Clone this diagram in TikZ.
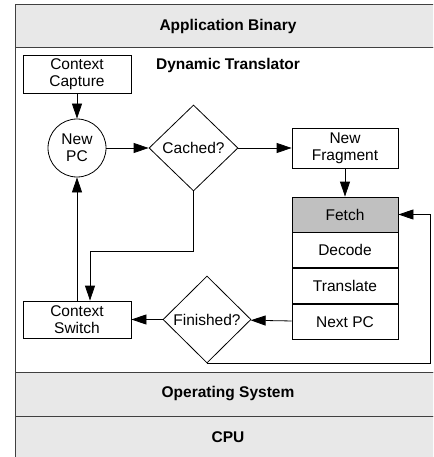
\documentclass[tikz,border=0pt]{standalone}
\usepackage{fontspec}
\setmainfont{Liberation Sans}
\usetikzlibrary{arrows.meta,shapes.geometric,positioning}
\definecolor{bandgray}{HTML}{E8E8E8}
\definecolor{fetchgray}{HTML}{C0C0C0}
\newcommand{\dtfont}{\fontsize{15.5}{17}\selectfont}

\begin{document}
\begin{tikzpicture}[x=1pt, y=-1pt,
    band/.style={draw=black!75, line width=1pt, fill=bandgray, minimum width=426pt, inner sep=0pt, font=\dtfont\bfseries},
    box/.style={draw, line width=0.8pt, fill=white, minimum width=106pt, minimum height=37pt, inner sep=0pt, align=center, font=\dtfont},
    stage/.style={box, minimum height=35pt},
    decision/.style={draw, diamond, line width=0.8pt, minimum width=89pt, minimum height=86pt, inner sep=0pt, font=\dtfont},
    arr/.style={-{Triangle[length=15pt,width=10pt]}, line width=0.8pt}
]
\useasboundingbox (0,0) rectangle (433,457);
\clip (0,0) rectangle (433,457);

% layers
\node[draw=black!75, line width=1pt, fill=white, minimum width=426pt, minimum height=324pt] (dt) at (228,210) {};
\node[band, minimum height=43pt] (app) at (228,26.5) {Application Binary};
\node[band, minimum height=44pt] (os) at (228,394) {Operating System};
\node[band, minimum height=42pt] (cpu) at (228,437) {CPU};
\node[font=\dtfont\bfseries] (dttitle) at (228,65) {Dynamic Translator};

% translator loop
\node[box, minimum width=108pt, minimum height=38pt] (capture) at (77,74) {Context\\Capture};
\node[draw, circle, line width=0.8pt, minimum size=58pt, inner sep=0pt, align=center, font=\dtfont] (newpc) at (77,148) {New\\PC};
\node[decision] (cached) at (193.5,148) {Cached?};
\node[box, minimum height=40pt] (fragment) at (345,148) {New\\Fragment};
\node[stage, fill=fetchgray] (fetch) at (345,214.5) {Fetch};
\node[stage, below=0pt of fetch] (decode) {Decode};
\node[stage, below=0pt of decode] (translate) {Translate};
\node[stage, below=0pt of translate] (nextpc) {Next PC};
\node[decision, minimum width=88pt, minimum height=87pt] (finished) at (207,319.5) {Finished?};
\node[box, minimum width=108pt] (cswitch) at (77,319.5) {Context\\Switch};

\draw[arr] (capture) -- (newpc);
\draw[arr] (newpc) -- (cached);
\draw[arr] (cached) -- (fragment);
\draw[arr] (fragment) -- (fetch);
\draw[arr] (cached.south) -- ++(0,60) -| ([xshift=13pt]cswitch.north);
\draw[arr] (cswitch) -- (newpc);
\draw[arr] (nextpc) -- (finished);
\draw[arr] (finished) -- (cswitch);
\draw[arr] (finished.south) -- ++(223,0) |- (fetch.east);
\end{tikzpicture}
\end{document}
